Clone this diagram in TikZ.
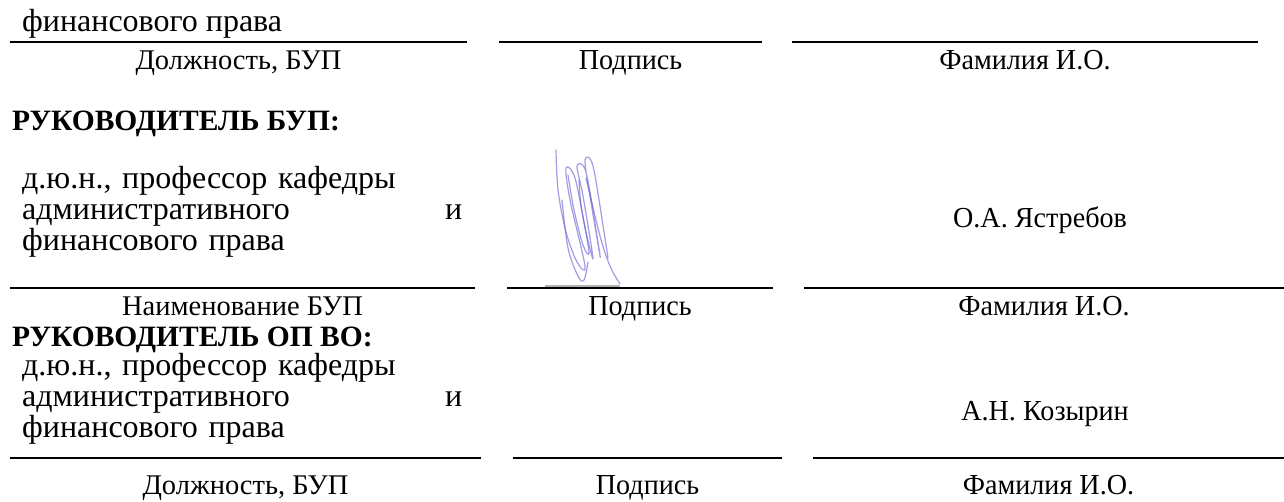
\documentclass[tikz,border=0pt]{standalone}
\usepackage{fontspec}
\setmainfont{Liberation Serif}
\newfontfamily\narrowserif[FakeStretch=0.97]{Liberation Serif}
\definecolor{signink}{RGB}{100,90,210}
\begin{document}
\begin{tikzpicture}[x=1pt, y=-1pt,
  every node/.style={inner sep=0pt},
  rule/.style={line width=1.8pt},
  body/.style={anchor=base west, font=\fontsize{32}{31}\selectfont},
  block/.style={body, text width=440pt, align=left},
  head/.style={anchor=base west, font=\fontsize{29.5}{31}\selectfont\bfseries},
  caption/.style={below=7pt, text height=20pt, text depth=5pt, font=\fontsize{28.5}{30}\selectfont},
  narrowcap/.style={caption, font=\narrowserif\fontsize{29}{30}\selectfont},
  signame/.style={anchor=base, font=\narrowserif\fontsize{29}{30}\selectfont},
  sig/.style={draw=signink, opacity=0.6, line width=1.2pt, line cap=round, line join=round}
]
\useasboundingbox (0,0) rectangle (1284,502);

% first row
\node[body] (pos0) at (22,32) {финансового права};
\coordinate (a1) at (10,42);   \coordinate (a2) at (467,42);
\coordinate (b1) at (499,42);  \coordinate (b2) at (762,42);
\coordinate (c1) at (792,42);  \coordinate (c2) at (1258,42);
\draw[rule] (a1) -- (a2) node[midway, caption] (lab0a) {Должность, БУП};
\draw[rule] (b1) -- (b2) node[midway, narrowcap] (lab0b) {Подпись};
\draw[rule] (c1) -- (c2) node[midway, narrowcap] (lab0c) {Фамилия И.О.};

% head of department
\node[head] (head1) at (12,131) {РУКОВОДИТЕЛЬ БУП:};
\node[block] (pos1) at (22,189) {д.ю.н., профессор кафедры\\административного\hfill и\\финансового права};
\node[signame] (name1) at (1040,228) {О.А. Ястребов};
\coordinate (d1) at (10,288);   \coordinate (d2) at (475,288);
\coordinate (e1) at (507,288);  \coordinate (e2) at (773,288);
\coordinate (f1) at (804,288);  \coordinate (f2) at (1284,288);
\draw[gray!60, line width=1.2pt] (545,286) -- (620,286);
\draw[rule] (d1) -- (d2) node[midway, caption] (lab1a) {Наименование БУП};
\draw[rule] (e1) -- (e2) node[midway, narrowcap] (lab1b) {Подпись};
\draw[rule] (f1) -- (f2) node[midway, narrowcap] (lab1c) {Фамилия И.О.};

% signature
\draw[sig] plot[smooth, tension=0.55] coordinates {(556,150) (558,190) (566,232) (577,262) (585,266)
  (570,200) (566,168) (575,178) (586,232) (593,258) (583,196) (577,166) (586,172) (597,236) (600,256)
  (590,196) (585,160) (593,166) (604,232) (608,258)};
\draw[sig] plot[smooth, tension=0.55] coordinates {(568,175) (574,210) (583,245) (589,252) (581,205) (579,180)};
\draw[sig] plot[smooth, tension=0.6] coordinates {(562,200) (568,248) (578,276) (584,280) (588,262)};
\draw[sig] plot[smooth, tension=0.6] coordinates {(586,178) (600,236) (610,266) (620,284)};

% head of programme
\node[head] (head2) at (12,346) {РУКОВОДИТЕЛЬ ОП ВО:};
\node[block] (pos2) at (22,375) {д.ю.н., профессор кафедры\\административного\hfill и\\финансового права};
\node[signame] (name2) at (1045,420) {А.Н. Козырин};
\coordinate (g1) at (10,458);   \coordinate (g2) at (481,458);
\coordinate (h1) at (513,458);  \coordinate (h2) at (782,458);
\coordinate (k1) at (813,458);  \coordinate (k2) at (1284,458);
\draw[rule] (g1) -- (g2) node[midway, caption, below=9pt] (lab2a) {Должность, БУП};
\draw[rule] (h1) -- (h2) node[midway, narrowcap, below=9pt] (lab2b) {Подпись};
\draw[rule] (k1) -- (k2) node[midway, narrowcap, below=9pt] (lab2c) {Фамилия И.О.};
\end{tikzpicture}
\end{document}
